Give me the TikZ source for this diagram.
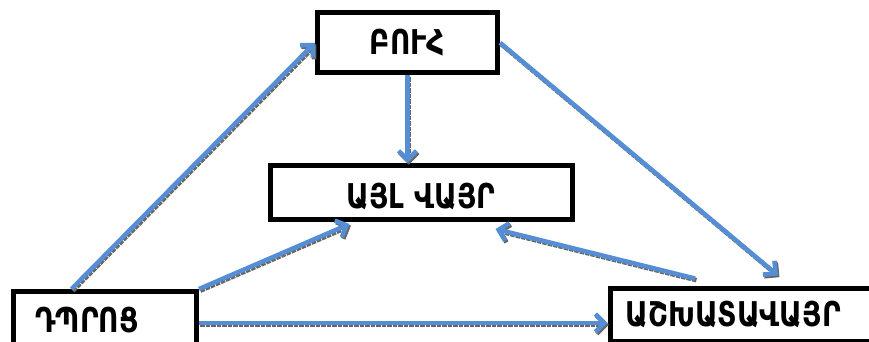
\documentclass[tikz,border=0pt]{standalone}
\usepackage{fontspec}
\usepackage{graphicx}
\setmainfont{DejaVu Sans}
\usetikzlibrary{arrows.meta,calc}
\definecolor{flowblue}{RGB}{85,142,213}
\newcommand{\tallcaps}[1]{\scalebox{1}[1.22]{#1}}
\tikzset{
  box/.style={draw=black, line width=5pt, fill=white, inner sep=0pt,
    font=\fontsize{28}{30}\selectfont\bfseries},
  flow/.style={draw=flowblue, line width=4.5pt,
    -{Straight Barb[length=9pt,width=18pt]},
    preaction={draw=black!60, densely dotted, line width=4.5pt,
      transform canvas={shift={(1.4pt,-1.7pt)}}}},
}
\begin{document}
\begin{tikzpicture}[x=1pt,y=-1pt]
\useasboundingbox (0,0) rectangle (869,342);
% boxes
\node[box, minimum width=180pt, minimum height=60.5pt] (buh) at (407.5,42.75) {\tallcaps{ԲՈՒՀ}};
\node[box, minimum width=302pt, minimum height=54pt, text height=31pt, text depth=0pt] (ayl) at (421,192.5) {\tallcaps{ԱՅԼ ՎԱՅՐ}};
\node[box, anchor=north west, minimum width=183pt, minimum height=57pt,
      inner xsep=22pt, text width=139pt, align=left] (dp) at (11,289) {\tallcaps{ԴՊՐՈՑ}};
\node[box, anchor=north west, minimum height=53pt,
      inner xsep=15.5pt, text width=260pt, align=left] (ash) at (607.5,285.5) {\tallcaps{ԱՇԽԱՏԱՎԱՅՐ}};
% connectors
\draw[flow] ($(dp.north west)!0.322!(dp.north east)$) -- (buh.west);
\draw[flow] (buh.south) -- (buh.south |- ayl.north);
\draw[flow] (buh.east) -- ([shift={(170.5pt,10pt)}]ash.north west);
\draw[flow] (dp.north east) -- ([shift={(82pt,-2pt)}]ayl.south west);
\draw[flow] ([shift={(87.5pt,7pt)}]ash.north west) -- ([shift={(228pt,-7pt)}]ayl.south west);
\draw[flow] ([yshift=-3pt]dp.east) -- ([yshift=-3pt]dp.east -| ash.west);
\end{tikzpicture}
\end{document}
